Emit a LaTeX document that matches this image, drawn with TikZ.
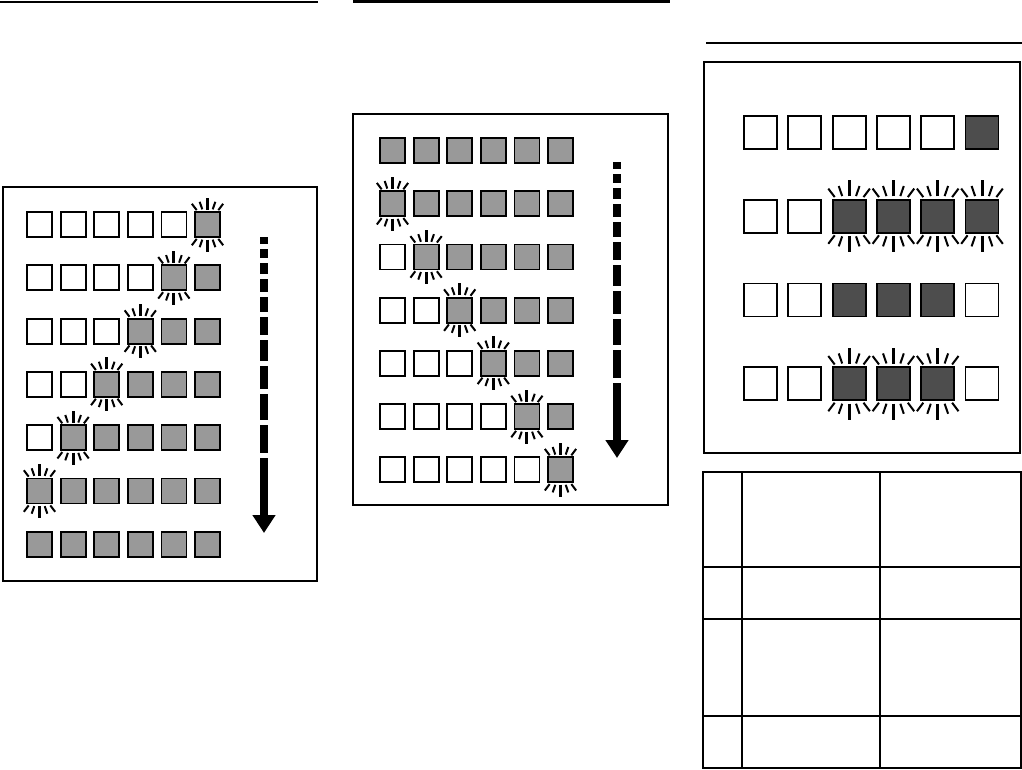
\documentclass[tikz,border=0pt]{standalone}
\usepackage{tikz}
\usetikzlibrary{arrows.meta,positioning}
\definecolor{cellgrey}{RGB}{153,153,153}
\definecolor{celldark}{RGB}{77,77,77}

\tikzset{
  glow/.pic={
    \foreach \a/\ra/\rb in {53/18/26,71/16/24,109/16/24,127/18/26,233/18/26,251/16/24,289/16/24,307/18/26}
      \draw[line width=2pt] (\a:\ra) -- (\a:\rb);
    \draw[line width=3pt] (90:15) -- (90:27) (270:15) -- (270:27);
  }
}

\begin{document}
\begin{tikzpicture}[
  x=1pt, y=-1pt,
  frame/.style={draw, line width=2.5pt},
  rule/.style={line width=2.5pt},
  cell/.style={
    draw,
    line width=1.8pt,
    fill=white,
    minimum size=25pt,
    inner sep=0pt
  },
  big/.style={minimum size=33pt},
  flow/.style={
    line width=8pt,
    -{Triangle[length=18pt,width=22pt]},
    dash pattern=on 7pt off 5pt on 9pt off 5pt on 11pt off 5pt on 13pt off 5pt on 15pt off 5pt on 18pt off 5pt on 21pt off 5pt on 23pt off 5pt on 26pt off 5pt on 28pt off 5pt on 90pt
  }
]
\useasboundingbox (0,0) rectangle (1022,769);

% rules over the three panels
\draw[rule] (0,2) -- (318,2);
\draw[rule] (353,1.5) -- (670,1.5);
\draw[rule] (706,43) -- (1022,43);

% left panel
\draw[frame] (3,187) rectangle (317,581);
\foreach \r in {0,...,6}
  \foreach \c in {0,...,5} {
    \ifnum\c<\numexpr5-\r\relax \def\f{white}\else\def\f{cellgrey}\fi
    \node[cell,fill=\f] (l-\r-\c) at (39.5+33.6*\c,224.5+53.3*\r) {};
  }
\foreach \r in {0,...,5} {
  \pgfmathtruncatemacro\c{5-\r}
  \pic at (l-\r-\c) {glow};
}
\coordinate (lf-top) at (264,237);
\coordinate (lf-end) at (264,533);
\draw[flow] (lf-top) -- (lf-end);

% middle panel
\draw[frame] (353,114) rectangle (668,505);
\foreach \r in {0,...,6}
  \foreach \c in {0,...,5} {
    \ifnum\c<\numexpr\r-1\relax \def\f{white}\else\def\f{cellgrey}\fi
    \node[cell,fill=\f] (m-\r-\c) at (392.5+33.6*\c,150.5+53.2*\r) {};
  }
\foreach \r in {1,...,6} {
  \pgfmathtruncatemacro\c{\r-1}
  \pic at (m-\r-\c) {glow};
}
\coordinate (mf-top) at (617,162);
\coordinate (mf-end) at (617,458);
\draw[flow] (mf-top) -- (mf-end);

% right panel
\draw[frame] (704,62) rectangle (1020,453);
\foreach \r/\lo/\hi in {0/5/5,1/2/5,2/2/4,3/2/4}
  \foreach \c in {0,...,5} {
    \def\f{celldark}
    \ifnum\c<\lo \def\f{white}\fi
    \ifnum\c>\hi \def\f{white}\fi
    \node[cell,big,fill=\f] (r-\r-\c) at (760.5+44.3*\c,132.5+83.7*\r) {};
  }
\foreach \r/\lo/\hi in {1/2/5,3/2/4}
  \foreach \c in {\lo,...,\hi}
    \pic[scale=1.33] at (r-\r-\c) {glow};

% table below
\draw[line width=1.8pt] (703,472) rectangle (1021,768);
\draw[line width=1.8pt] (742,472) -- (742,768) (880,472) -- (880,768);
\draw[line width=1.8pt] (703,567) -- (1021,567) (703,619) -- (1021,619) (703,716) -- (1021,716);
\end{tikzpicture}
\end{document}
